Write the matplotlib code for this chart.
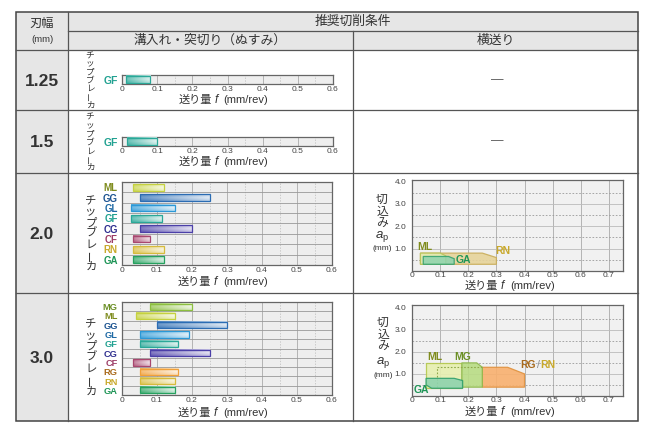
import numpy as np
import matplotlib
matplotlib.use("Agg")
import matplotlib.pyplot as plt
from matplotlib.patches import Rectangle, Polygon
from matplotlib.colors import to_rgb

plt.rcParams['font.family'] = ['Liberation Sans', 'Noto Sans CJK JP', 'DejaVu Sans']
plt.rcParams['mathtext.fontset'] = 'custom'
plt.rcParams['mathtext.it'] = 'Liberation Sans:italic'
plt.rcParams['mathtext.rm'] = 'Liberation Sans'

# ---------------- data ----------------
widths = ["1.25", "1.5", "2.0", "3.0"]
head_width = "刃幅"
head_unit = "(mm)"
head_cond = "推奨切削条件"
head_groove = "溝入れ・突切り（ぬすみ）"
head_side = "横送り"
breaker_title = "チップブレーカ"
feed_label_jp = "送り量"
feed_label_sym = "f"
feed_label_unit = "(mm/rev)"
depth_label_jp = "切込み"
feed_ticks = [0, 0.1, 0.2, 0.3, 0.4, 0.5, 0.6]
feed_ticks_r = [0, 0.1, 0.2, 0.3, 0.4, 0.5, 0.6, 0.7]
depth_ticks = [1.0, 2.0, 3.0, 4.0]

w125_names = ["GF"]
w125_start = [0.01]
w125_end = [0.08]

w15_names = ["GF"]
w15_start = [0.015]
w15_end = [0.10]

w20_names = ["ML", "GG", "GL", "GF", "CG", "CF", "RN", "GA"]
w20_start = [0.03, 0.05, 0.025, 0.025, 0.05, 0.03, 0.03, 0.03]
w20_end = [0.12, 0.25, 0.15, 0.115, 0.20, 0.08, 0.12, 0.12]

w30_names = ["MG", "ML", "GG", "GL", "GF", "CG", "CF", "RG", "RN", "GA"]
w30_start = [0.08, 0.04, 0.10, 0.05, 0.05, 0.08, 0.03, 0.05, 0.05, 0.05]
w30_end = [0.20, 0.15, 0.30, 0.19, 0.16, 0.25, 0.08, 0.16, 0.15, 0.15]

# side-feed regions (feed f, depth ap)
w20_rn_f = [0.03, 0.03, 0.25, 0.30, 0.30]
w20_rn_ap = [0.3, 0.8, 0.8, 0.6, 0.3]
w20_ml_f = [0.03, 0.03, 0.10, 0.12, 0.12]
w20_ml_ap = [0.3, 0.8, 0.8, 0.68, 0.3]
w20_ga_f = [0.04, 0.04, 0.13, 0.15, 0.15]
w20_ga_ap = [0.3, 0.65, 0.65, 0.55, 0.3]

w30_rg_f = [0.25, 0.25, 0.34, 0.40, 0.40]
w30_rg_ap = [0.4, 1.3, 1.3, 1.0, 0.4]
w30_mg_f = [0.177, 0.177, 0.23, 0.25, 0.25]
w30_mg_ap = [0.4, 1.5, 1.5, 1.3, 0.4]
w30_mgdot_f = [0.09, 0.09, 0.25]
w30_mgdot_ap = [0.4, 1.3, 1.3]
w30_ml_f = [0.05, 0.05, 0.177, 0.177]
w30_ml_ap = [0.35, 1.5, 1.5, 0.35]
w30_ga_f = [0.05, 0.05, 0.15, 0.18, 0.18, 0.07]
w30_ga_ap = [0.5, 0.8, 0.8, 0.7, 0.35, 0.35]

bar_colors = {"ML": "#c5d13f", "GG": "#2b6cb3", "GL": "#2b98d6", "GF": "#2aa898",
              "CG": "#4b3fa8", "CF": "#a8476f", "RN": "#d6bb3c", "GA": "#26a15f",
              "MG": "#8cbf3f", "RG": "#f0a03a"}
label_colors = {"ML": "#7f8c1e", "GG": "#1d5491", "GL": "#1f6aa5", "GF": "#21a191",
                "CG": "#2f2f8f", "CF": "#9c3c66", "RN": "#c9a92c", "GA": "#1f9557",
                "MG": "#6b8f25", "RG": "#a96a1c"}

# ---------------- figure ----------------
W, H = 655, 436
fig = plt.figure(figsize=(W / 100, H / 100), dpi=100)
fig.patch.set_facecolor('white')


def add_ax(x0, y0, x1, y1):
    return fig.add_axes([x0 / W, 1 - y1 / H, (x1 - x0) / W, (y1 - y0) / H])


bg = fig.add_axes([0, 0, 1, 1])
bg.set_xlim(0, W)
bg.set_ylim(H, 0)
bg.axis('off')

cols = [16, 68, 353, 638]
rows = [12, 31, 50, 110, 173, 293, 421]
gray = '#e6e6e6'
lc = '#555555'

bg.add_patch(Rectangle((cols[0], rows[0]), cols[3] - cols[0], rows[2] - rows[0], fc=gray, ec='none'))
bg.add_patch(Rectangle((cols[0], rows[2]), cols[1] - cols[0], rows[6] - rows[2], fc=gray, ec='none'))
for y in rows[2:6]:
    bg.plot([cols[0], cols[3]], [y, y], color=lc, lw=0.9)
bg.plot([cols[1], cols[3]], [rows[1], rows[1]], color=lc, lw=0.9)
bg.plot([cols[1], cols[1]], [rows[0], rows[6]], color=lc, lw=0.9)
bg.plot([cols[2], cols[2]], [rows[1], rows[6]], color=lc, lw=0.9)
bg.add_patch(Rectangle((cols[0], rows[0]), cols[3] - cols[0], rows[6] - rows[0], fc='none', ec='#444444', lw=1.1))

tc = '#333333'
bg.text(42, 24, head_width, ha='center', va='center', fontsize=8.8, color=tc)
bg.text(42, 39.5, head_unit, ha='center', va='center', fontsize=6.8, color=tc)
bg.text((cols[1] + cols[3]) / 2, 21.5, head_cond, ha='center', va='center', fontsize=9.2, color=tc)
bg.text((cols[1] + cols[2]) / 2, 40.5, head_groove, ha='center', va='center', fontsize=9.2, color=tc)
bg.text((cols[2] + cols[3]) / 2, 40.5, head_side, ha='center', va='center', fontsize=9.2, color=tc)
for i, w in enumerate(widths):
    bg.text(42, (rows[i + 2] + rows[i + 3]) / 2 + 1, w, ha='center', va='center',
            fontsize=12.5, fontweight='bold', color='#333333')
for i in range(2):
    bg.text(497, (rows[i + 2] + rows[i + 3]) / 2, "—", ha='center', va='center',
            fontsize=9, color='#555555')


def vertical_text(x, y0, y1, s, fs):
    n = len(s)
    step = (y1 - y0) / n
    for k, ch in enumerate(s):
        yy = y0 + step * (k + 0.5)
        rot = 90 if ch == "ー" else 0
        bg.text(x, yy, ch, ha='center', va='center', fontsize=fs, rotation=rot, color=tc)


vertical_text(90, 52, 109, breaker_title, 6.2)
vertical_text(90, 113, 172, breaker_title, 6.2)
vertical_text(91, 196, 272, breaker_title, 8.2)
vertical_text(91, 319, 397, breaker_title, 8.2)


def feed_label(cx, y):
    x0 = cx - 46
    bg.text(x0, y, feed_label_jp, ha='left', va='center', fontsize=8, color=tc)
    bg.text(x0 + 36, y, feed_label_sym, ha='left', va='center', fontsize=8.5,
            fontstyle='italic', color=tc)
    bg.text(x0 + 45, y, feed_label_unit, ha='left', va='center', fontsize=8, color=tc)


def grad_bar(ax, s, e, y, h, color):
    c = np.array(to_rgb(color))
    nx, ny = 64, 16
    t = np.linspace(0, 1, nx)[None, :, None]
    v = np.abs(np.linspace(-1, 1, ny))[:, None, None]
    mix = 0.12 + 0.55 * t + 0.2 * (1 - v)
    mix = np.clip(mix, 0, 0.85)
    img = c[None, None, :] * (1 - mix) + mix
    ax.imshow(img, extent=(s, e, y + h / 2, y - h / 2), aspect='auto', zorder=3,
              interpolation='bilinear')
    ax.add_patch(Rectangle((s, y - h / 2), e - s, h, fc='none', ec=color, lw=0.9, zorder=4))


def left_chart(box, names, starts, ends, h, lab_fs, xlab_y):
    ax = add_ax(*box)
    n = len(names)
    ax.set_facecolor('#eeeeee')
    for x in np.arange(1, 12) * 0.05:
        if int(round(x * 100)) % 10 == 0:
            ax.axvline(x, color='#aaaaaa', lw=0.6, zorder=1)
        else:
            ax.axvline(x, color='#bbbbbb', lw=0.5, ls=(0, (2, 2)), zorder=1)
    for k in range(n - 1):
        ax.axhline(k + 0.5, color='#999999', lw=0.6, zorder=1)
    for i, (nm, s, e) in enumerate(zip(names, starts, ends)):
        grad_bar(ax, s, e, i, h, bar_colors[nm])
    ax.set_xlim(0, 0.6)
    ax.set_ylim(n - 0.5, -0.5)
    ax.set_yticks(range(n))
    ax.set_yticklabels(names, fontsize=lab_fs, fontweight='bold')
    for tl, nm in zip(ax.get_yticklabels(), names):
        tl.set_color(label_colors[nm])
    ax.set_xticks(feed_ticks)
    ax.set_xticklabels([f"{v:g}" for v in feed_ticks], fontsize=6, color='#444444')
    ax.tick_params(length=0, pad=1.5)
    ax.tick_params(axis='y', pad=3)
    for sp in ax.spines.values():
        sp.set_color('#666666')
        sp.set_linewidth(0.9)
    feed_label((box[0] + box[2]) / 2 - 3, xlab_y)
    return ax


left_chart((122, 75, 333, 84), w125_names, w125_start, w125_end, 0.8, 7.5, 100)
left_chart((122, 137, 333, 146), w15_names, w15_start, w15_end, 0.8, 7.5, 162)
left_chart((122, 182, 332, 265), w20_names, w20_start, w20_end, 0.66, 7, 282)
left_chart((122, 302, 332, 395), w30_names, w30_start, w30_end, 0.66, 6.7, 413)


def right_chart(box, ytop, xlab_y, ylab_x, ylab_ys):
    ax = add_ax(*box)
    ax.set_facecolor('#f1f1f1')
    ax.set_xlim(0, 0.75)
    ax.set_ylim(0, ytop)
    for x in np.arange(1, 8) * 0.1:
        ax.axvline(x, color='#aaaaaa', lw=0.6, zorder=1)
    for y in [1, 2, 3]:
        ax.axhline(y, color='#bbbbbb', lw=0.6, zorder=1)
    for y in [0.5, 1.5, 2.5, 3.5]:
        ax.axhline(y, color='#999999', lw=0.6, ls=(0, (2, 2)), zorder=1)
    ax.set_xticks(feed_ticks_r)
    ax.set_xticklabels([f"{v:g}" for v in feed_ticks_r], fontsize=6, color='#444444')
    ax.set_yticks(depth_ticks)
    ax.set_yticklabels([f"{v:.1f}" for v in depth_ticks], fontsize=6, color='#444444')
    ax.tick_params(length=0, pad=1.0)
    ax.tick_params(axis='y', pad=4)
    for sp in ax.spines.values():
        sp.set_color('#666666')
        sp.set_linewidth(0.9)
    feed_label(511, xlab_y)
    for ch, yy in zip(depth_label_jp, ylab_ys[:3]):
        bg.text(ylab_x, yy, ch, ha='center', va='center', fontsize=8.5, color=tc)
    bg.text(ylab_x, ylab_ys[3], r"$a_\mathrm{p}$", ha='center', va='center', fontsize=9.5, color=tc)
    bg.text(ylab_x, ylab_ys[4], "(mm)", ha='center', va='center', fontsize=6, color=tc)
    return ax


def region(ax, f, ap, fc, ec, alpha=0.85, z=3):
    ax.add_patch(Polygon(np.column_stack([f, ap]), closed=True, fc=fc, ec=ec, lw=0.9,
                         alpha=alpha, zorder=z))


ax20 = right_chart((412, 180, 623, 271), 4.07, 286, 382, [200, 212, 223, 236, 248])
region(ax20, w20_rn_f, w20_rn_ap, '#e6d39a', '#c9ad5a', 0.9, 3)
region(ax20, w20_ml_f, w20_ml_ap, '#e4ecb4', '#b6c455', 0.85, 4)
region(ax20, w20_ga_f, w20_ga_ap, '#8ed3ae', '#2f9f6c', 0.85, 5)
ax20.text(0.02, 1.08, "ML", fontsize=7.5, fontweight='bold', color=label_colors["ML"], va='center', zorder=6)
ax20.text(0.155, 0.48, "GA", fontsize=7.5, fontweight='bold', color=label_colors["GA"], va='center', zorder=6)
ax20.text(0.297, 0.88, "RN", fontsize=7.5, fontweight='bold', color=label_colors["RN"], va='center', zorder=6)

ax30 = right_chart((412, 305, 623, 396), 4.12, 412, 383, [323, 335, 346, 362, 375])
region(ax30, w30_rg_f, w30_rg_ap, '#f8b06e', '#e0913d', 0.9, 3)
region(ax30, w30_ml_f, w30_ml_ap, '#e6efb0', '#b4c84c', 0.9, 3)
region(ax30, w30_mg_f, w30_mg_ap, '#b9dc85', '#8fb84e', 0.9, 4)
ax30.plot(w30_mgdot_f, w30_mgdot_ap, color='#8fa84a', lw=0.8, ls=(0, (1.5, 1.5)), zorder=5)
region(ax30, w30_ga_f, w30_ga_ap, '#8ed3ae', '#2f9f6c', 0.9, 6)
ax30.text(0.054, 1.77, "ML", fontsize=7.5, fontweight='bold', color=label_colors["ML"], va='center', zorder=7)
ax30.text(0.149, 1.77, "MG", fontsize=7.5, fontweight='bold', color=label_colors["MG"], va='center', zorder=7)
ax30.text(0.386, 1.40, "RG", fontsize=7.5, fontweight='bold', color=label_colors["RG"], va='center', zorder=7)
ax30.text(0.445, 1.40, "/", fontsize=7.5, color='#888888', va='center', zorder=7)
ax30.text(0.457, 1.40, "RN", fontsize=7.5, fontweight='bold', color=label_colors["RN"], va='center', zorder=7)
ax30.text(0.004, 0.25, "GA", fontsize=7.5, fontweight='bold', color=label_colors["GA"], va='center', zorder=7)

fig.savefig("out.png", dpi=100)
